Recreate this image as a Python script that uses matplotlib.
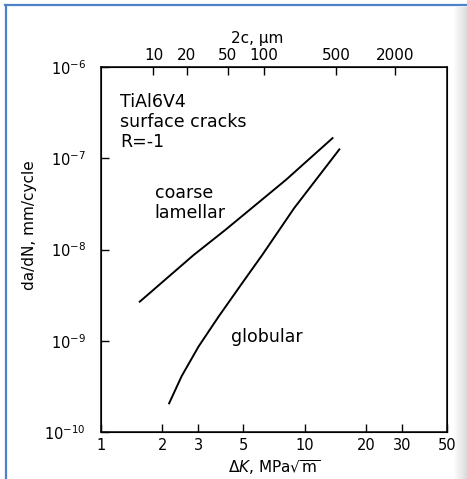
import numpy as np
import matplotlib
matplotlib.use("Agg")
import matplotlib.pyplot as plt
from matplotlib.lines import Line2D

plt.rcParams['font.family'] = ['DejaVu Sans']
plt.rcParams['mathtext.default'] = 'regular'

# crack growth curves, TiAl6V4 surface cracks, R=-1
lam_dk = [1.55, 2.85, 4.08, 8.08, 13.7]
lam_dadn = [2.68e-9, 8.7e-9, 1.64e-8, 5.78e-8, 1.66e-7]

glob_dk = [2.16, 2.49, 3.01, 3.78, 4.93, 6.19, 8.87, 14.8]
glob_dadn = [2.06e-10, 4.1e-10, 8.61e-10, 1.84e-9, 4.27e-9, 8.71e-9, 2.83e-8, 1.25e-7]

# bottom axis ticks
dk_ticks = [1, 2, 3, 5, 10, 20, 30, 50]
# top axis: crack length 2c and the dK where each one sits
crack_um = [10, 20, 50, 100, 500, 2000]
crack_dk = [1.81, 2.64, 4.2, 6.31, 14.3, 27.7]
# y ticks
rate_ticks = [1e-10, 1e-9, 1e-8, 1e-7, 1e-6]

W, H = 467, 479
fig = plt.figure(figsize=(W / 100, H / 100), dpi=100)

# grey shade along the right edge of the page (behind everything)
shade = fig.add_axes([453 / W, 0, 14 / W, 1 - 7 / H])
shade.imshow(np.linspace(1.0, 0.86, 30)[None, :], cmap='gray', vmin=0, vmax=1,
             aspect='auto', extent=[0, 1, 0, 1])
shade.set_axis_off()
shade.set_zorder(-1)

ax = fig.add_axes([101 / W, 1 - 432 / H, 346 / W, 365 / H])
ax.patch.set_alpha(0)

ax.plot(lam_dk, lam_dadn, color='black', lw=1.4)
ax.plot(glob_dk, glob_dadn, color='black', lw=1.4)

ax.set_xscale('log')
ax.set_yscale('log')
ax.set_xlim(1, 50)
ax.set_ylim(1e-10, 1e-6)

ax.set_xticks(dk_ticks)
ax.set_xticklabels([str(v) for v in dk_ticks])
ax.set_yticks(rate_ticks)
ax.set_yticklabels([r'$10^{%d}$' % int(round(np.log10(v))) for v in rate_ticks])
ax.minorticks_off()
ax.tick_params(axis='x', direction='in', length=6, width=1, pad=4, labelsize=10.5)
ax.tick_params(axis='y', direction='in', length=6, width=1, pad=11, labelsize=10.5)
for sp in ax.spines.values():
    sp.set_linewidth(1.1)

ax.set_xlabel(r'$\Delta \mathit{K}$, MPa$\sqrt{m}$', fontsize=11)
ax.xaxis.set_label_coords(0.5, -0.072)
ax.set_ylabel('da/dN, mm/cycle', fontsize=11)
ax.yaxis.set_label_coords(-0.185, 0.567)

# top axis with crack length
ax2 = ax.twiny()
ax2.set_xscale('log')
ax2.set_xlim(ax.get_xlim())
ax2.set_xticks(crack_dk)
ax2.set_xticklabels([str(v) for v in crack_um])
ax2.minorticks_off()
ax2.tick_params(axis='x', direction='in', length=6, width=1, pad=3, labelsize=11)
ax2.set_xlabel('2c, µm', fontsize=11)
ax2.xaxis.set_label_coords((257 - 101) / 346, 1.066)

ax.text(0.055, 0.93, 'TiAl6V4\nsurface cracks\nR=-1', transform=ax.transAxes,
        fontsize=12.5, va='top', ha='left', linespacing=1.15)
ax.text(0.155, 0.627, 'coarse\nlamellar', transform=ax.transAxes,
        fontsize=12.5, va='center', ha='left', linespacing=1.15)
ax.text(0.375, 0.26, 'globular', transform=ax.transAxes,
        fontsize=12.5, va='center', ha='left')

# page frame: blue border on top and left
fig.add_artist(Line2D([5 / W, 1], [1 - 5 / H, 1 - 5 / H], color='#4f81c7', lw=1.6))
fig.add_artist(Line2D([6 / W, 6 / W], [0, 1 - 5 / H], color='#4f81c7', lw=1.6))

fig.savefig('out.png', dpi=100)
